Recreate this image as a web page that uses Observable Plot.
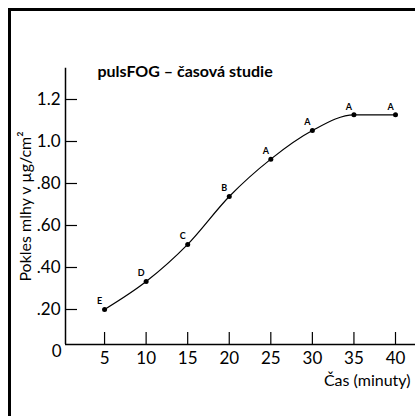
<!DOCTYPE html>
<html><head><meta charset="utf-8">
<script src="https://cdn.jsdelivr.net/npm/d3@7"></script>
<script src="https://cdn.jsdelivr.net/npm/@observablehq/plot@0.6"></script>
<style>
html,body{margin:0;padding:0;background:#fff;}
#wrap{position:relative;width:415px;height:416px;overflow:hidden;}
#frame{position:absolute;left:8px;top:8px;width:420px;height:420px;border-top:3.5px solid #000;border-left:3.5px solid #000;box-sizing:border-box;pointer-events:none;}
#wrap svg{position:absolute;left:0;top:0;}
</style></head>
<body><div id="wrap"><div id="frame"></div></div>
<script>
const minutes = [5, 10, 15, 20, 25, 30, 35, 40];
const pokles = [0.20, 0.333, 0.51, 0.738, 0.916, 1.052, 1.127, 1.127];
const pointLabels = ["E", "D", "C", "B", "A", "A", "A", "A"];
const yTicks = [0.2, 0.4, 0.6, 0.8, 1.0, 1.2];
const yTickLabels = [".20", ".40", ".60", ".80", "1.0", "1.2"];
const xTicks = [5, 10, 15, 20, 25, 30, 35, 40];
const zeroLabel = ["0"];
const title = "pulsFOG – časová studie";
const yTitle = "Pokles mlhy v µg/cm²";
const xTitle = "Čas (minuty)";

const data = minutes.map((m, i) => ({x: m, y: pokles[i], label: pointLabels[i]}));
const F = "Lato, 'DejaVu Sans', sans-serif";

const chart = Plot.plot({
  width: 415, height: 416,
  marginLeft: 65, marginRight: 0, marginTop: 68, marginBottom: 72,
  style: {fontFamily: F, background: "transparent", color: "#000"},
  x: {domain: [0, 40], range: [62.5, 395], axis: null},
  y: {domain: [0, 1.2], range: [351, 99], axis: null},
  marks: [
    Plot.ruleX([0], {dx: 2.5, dy: -7, y1: 0, y2: 1.315, strokeWidth: 1.5}),
    Plot.ruleY([0], {dy: -7, dx: 2.5, x1: 0, x2: 43, strokeWidth: 1.5}),
    Plot.axisY(yTicks, {anchor: "left", tickSize: -12, tickPadding: 17, strokeWidth: 1.2,
      tickFormat: d => yTickLabels[yTicks.indexOf(d)], fontSize: 17, label: null}),
    Plot.text(zeroLabel, {y: 0, frameAnchor: "left", dx: -4, textAnchor: "end", text: d => d, fontSize: 17}),
    Plot.axisX(xTicks, {anchor: "bottom", tickSize: -12, tickPadding: 19, strokeWidth: 1.2, fontSize: 17, label: null}),
    Plot.line(data, {x: "x", y: "y", curve: "monotone-x", strokeWidth: 1.2}),
    Plot.dot(data, {x: "x", y: "y", r: 2.5, fill: "#000", stroke: null}),
    Plot.text(data, {x: "x", y: "y", text: "label", dx: -5, dy: -8, fontSize: 9, fontWeight: "bold"}),
    Plot.text([title], {frameAnchor: "top-left", dx: 32, dy: -3, textAnchor: "start", fontSize: 16, fontWeight: "bold"}),
    Plot.text([yTitle], {frameAnchor: "left", rotate: -90, dx: -40, textAnchor: "middle", fontSize: 16}),
    Plot.text([xTitle], {frameAnchor: "bottom-right", textAnchor: "end", dx: -5, dy: 41, fontSize: 16})
  ]
});
document.getElementById("wrap").appendChild(chart);
</script>
</body></html>
